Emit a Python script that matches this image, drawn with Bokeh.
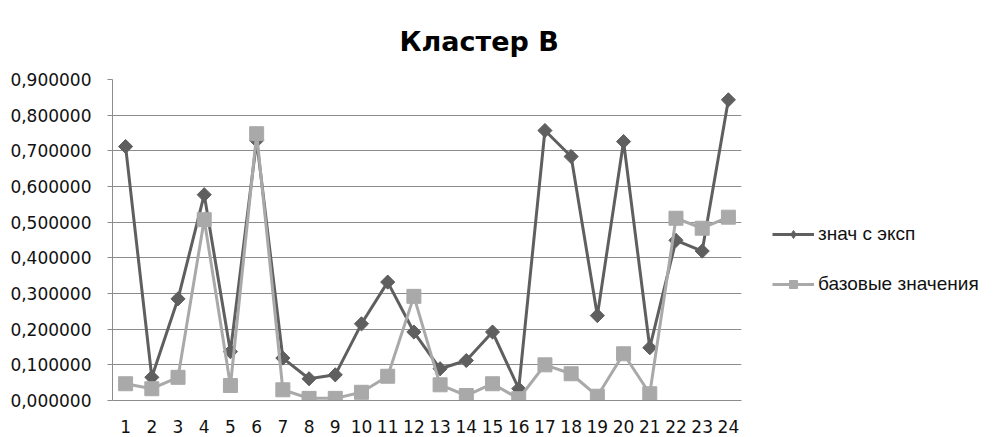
from bokeh.plotting import figure
from bokeh.models import (FactorRange, Range1d, FixedTicker, CustomJSTickFormatter,
                          Legend, LegendItem, Title)
from bokeh.embed import file_html
from bokeh.resources import INLINE

title_text = "Кластер В"
categories = [str(i) for i in range(1, 25)]
series_names = ["знач с эксп", "базовые значения"]
znach_s_eksp = [0.712, 0.065, 0.285, 0.577, 0.137, 0.729, 0.119, 0.061, 0.072, 0.215, 0.332, 0.192,
                0.089, 0.112, 0.192, 0.033, 0.757, 0.684, 0.238, 0.726, 0.148, 0.449, 0.419, 0.843]
bazovye = [0.047, 0.033, 0.065, 0.507, 0.042, 0.748, 0.030, 0.006, 0.006, 0.023, 0.068, 0.292,
           0.044, 0.014, 0.047, 0.005, 0.100, 0.075, 0.012, 0.131, 0.019, 0.511, 0.483, 0.514]
y_ticks = [0.0, 0.1, 0.2, 0.3, 0.4, 0.5, 0.6, 0.7, 0.8, 0.9]

DARK = "#5f5f5f"
LIGHT = "#a9a9a9"
GRID = "#8c8c8c"

p = figure(frame_width=629, frame_height=321,
           x_range=FactorRange(*categories), y_range=Range1d(0, 0.9),
           output_backend="svg", toolbar_location=None, title=None,
           min_border_left=112, min_border_right=255, min_border_top=79, min_border_bottom=36)
p.outline_line_color = None
p.background_fill_color = "white"
p.border_fill_color = "white"

# title
p.add_layout(Title(text=title_text, align="left", offset=287, standoff=45,
                   text_font="DejaVu Sans", text_font_style="bold",
                   text_font_size="27px", text_color="#000000"), "above")

# axes
p.yaxis.ticker = FixedTicker(ticks=y_ticks)
p.yaxis.formatter = CustomJSTickFormatter(code="return tick.toFixed(6).replace('.', ',');")
p.yaxis.major_label_text_font = "DejaVu Sans"
p.yaxis.major_label_text_font_size = "17px"
p.yaxis.major_label_text_color = "#111111"
p.yaxis.major_tick_out = 5
p.yaxis.major_tick_in = 0
p.yaxis.minor_tick_line_color = None
p.yaxis.major_label_standoff = 16
p.yaxis.axis_line_color = GRID
p.yaxis.major_tick_line_color = GRID

p.xaxis.major_label_text_font = "DejaVu Sans"
p.xaxis.major_label_text_font_size = "17px"
p.xaxis.major_label_text_color = "#111111"
p.xaxis.major_tick_line_color = None
p.xaxis.major_label_standoff = 13
p.xaxis.axis_line_color = GRID

p.xgrid.grid_line_color = None
p.ygrid.ticker = FixedTicker(ticks=y_ticks)
p.ygrid.grid_line_color = GRID
p.ygrid.grid_line_width = 1

# series
l1 = p.line(categories, znach_s_eksp, line_color=DARK, line_width=3)
# diamond marker (used for the legend sample; covered by the wider rotated square below)
s1_leg = p.scatter(categories, znach_s_eksp, marker="diamond", size=13,
                   fill_color=DARK, line_color=DARK)
s1 = p.scatter(categories, znach_s_eksp, marker="square", angle=0.7853981634, size=10,
               fill_color=DARK, line_color=DARK)
l2 = p.line(categories, bazovye, line_color=LIGHT, line_width=3)
s2 = p.scatter(categories, bazovye, marker="square", size=14,
               fill_color=LIGHT, line_color=LIGHT)

# legend
leg = Legend(items=[LegendItem(label=series_names[0], renderers=[l1, s1_leg]),
                    LegendItem(label=series_names[1], renderers=[l2, s2])],
             location=(31, 105), glyph_width=42, glyph_height=20, label_height=20,
             label_standoff=4, padding=0, margin=0, spacing=28,
             label_text_font="Liberation Sans",
             label_text_font_size="19px", label_text_color="#111111",
             background_fill_alpha=0, border_line_color=None)
p.add_layout(leg, "right")

open("out.html", "w").write(file_html(p, INLINE))
